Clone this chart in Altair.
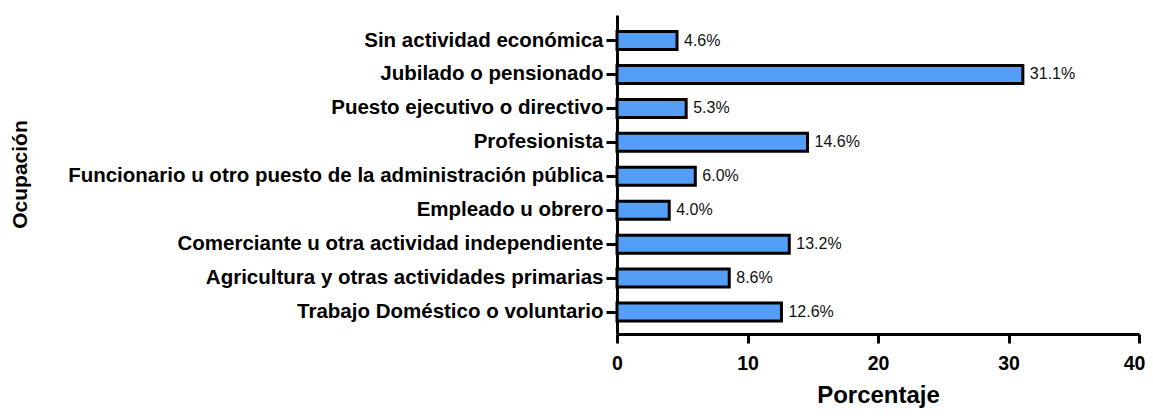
import altair as alt
import pandas as pd

categories = [
    "Sin actividad económica",
    "Jubilado o pensionado",
    "Puesto ejecutivo o directivo",
    "Profesionista",
    "Funcionario u otro puesto de la administración pública",
    "Empleado u obrero",
    "Comerciante u otra actividad independiente",
    "Agricultura y otras actividades primarias",
    "Trabajo Doméstico o voluntario",
]
values = [4.6, 31.1, 5.3, 14.6, 6.0, 4.0, 13.2, 8.6, 12.6]
labels = [f"{v:.1f}%" for v in values]

df = pd.DataFrame({"cat": categories, "val": values, "lab": labels})

FONT = "Liberation Sans"

y = alt.Y(
    "cat:N",
    sort=categories,
    scale=alt.Scale(paddingInner=0.47, paddingOuter=0.435, align=0.56),
    axis=alt.Axis(
        title="Ocupación",
        titleFont=FONT, titleFontSize=21, titleFontWeight="bold", titleColor="black",
        titleX=-597, titleY=159, titleAngle=-90, titleBaseline="middle", titleAlign="center",
        labelFont=FONT, labelFontSize=20.5, labelFontWeight="bold", labelColor="black",
        labelPadding=3, labelLimit=1000,
        tickSize=11, tickWidth=3, tickColor="black",
        domainWidth=3, domainColor="black",
    ),
)

x = alt.X(
    "val:Q",
    scale=alt.Scale(domain=[0, 40], nice=False),
    axis=alt.Axis(
        title="Porcentaje",
        values=[0, 10, 20, 30, 40],
        titleFont=FONT, titleFontSize=24, titleFontWeight="bold", titleColor="black",
        titleY=68, titleBaseline="alphabetic",
        labelFont=FONT, labelFontSize=19.5, labelFontWeight="bold", labelColor="black",
        labelPadding=11, labelFlush=False,
        labelOffset=alt.ExprRef(expr="datum.value == 40 ? -5 : 0"),
        tickSize=9, tickWidth=3, tickColor="black",
        domainWidth=3, domainColor="black", grid=False,
    ),
)

bars = alt.Chart(df).mark_bar(
    color="#559EF7", stroke="black", strokeWidth=3
).encode(x=x, y=y)

text = alt.Chart(df).mark_text(
    align="left", baseline="middle", dx=7, font=FONT, fontSize=16, color="#111111"
).encode(x="val:Q", y=alt.Y("cat:N", sort=categories), text="lab:N")

chart = (bars + text).properties(
    width=522,
    height=319,
    autosize=alt.AutoSizeParams(type="none"),
    padding={"left": 609, "top": 7, "right": 6, "bottom": 74},
).configure_view(stroke=None).configure_axis(grid=False)

chart.save("out.html", embed_options={"renderer": "svg", "actions": False})
